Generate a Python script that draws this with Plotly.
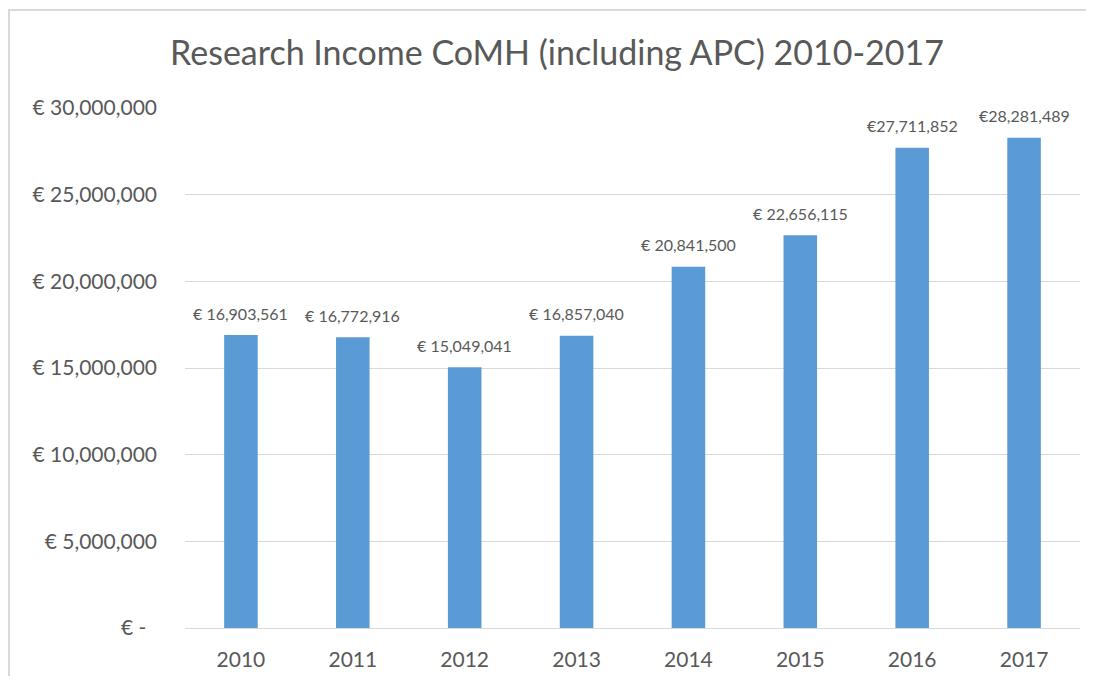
import plotly.graph_objects as go

years = ["2010", "2011", "2012", "2013", "2014", "2015", "2016", "2017"]
income = [16903561, 16772916, 15049041, 16857040, 20841500, 22656115, 27711852, 28281489]
labels = ["€ 16,903,561", "€ 16,772,916", "€ 15,049,041", "€ 16,857,040",
          "€ 20,841,500", "€ 22,656,115", "€27,711,852", "€28,281,489"]
y_ticks = [0, 5000000, 10000000, 15000000, 20000000, 25000000, 30000000]
y_ticktext = ["€ -\u00a0\u00a0" if v == 0 else "€ {:,}".format(v) for v in y_ticks]

FONT = "Lato, 'Open Sans', sans-serif"
GREY = "#595959"

# page body has an 8px margin, so figure coords = screen coords - 8;
# the figure is sized to fit inside the window without scrollbars
L, R, T, B = 177, 1072, 100, 620
W, H = 1078, 668

fig = go.Figure(go.Bar(
    x=years, y=income,
    marker=dict(color="#5B9BD5", line=dict(width=0)),
    width=0.30, cliponaxis=False,
))

annotations = [dict(x=i, y=val, text=lab, xref="x", yref="y", showarrow=False,
                    yanchor="middle", yshift=22,
                    font=dict(size=16, color=GREY, family=FONT))
               for i, (val, lab) in enumerate(zip(income, labels))]

pw, ph = R - L, B - T
fig.update_layout(
    width=W, height=H,
    margin=dict(l=L, r=W - R, t=T, b=H - B, autoexpand=False),
    paper_bgcolor="white", plot_bgcolor="white",
    font=dict(family=FONT, color=GREY),
    title=dict(text="Research Income CoMH (including APC) 2010-2017",
               x=549 / W, xanchor="center", y=1 - 45 / H, yanchor="middle",
               font=dict(size=34, color=GREY, family=FONT)),
    showlegend=False,
    annotations=annotations,
    shapes=[dict(type="rect", xref="paper", yref="paper",
                 x0=(1 - L) / pw, x1=(W + 20 - L) / pw,
                 y0=-(H + 20 - B) / ph, y1=(B - 2) / ph,
                 line=dict(color="#D9D9D9", width=2), fillcolor="rgba(0,0,0,0)",
                 layer="below")],
)
fig.update_xaxes(type="category", range=[-0.5, len(years) - 0.5],
                 showgrid=False, showline=False, ticks="",
                 automargin=False,
                 tickfont=dict(size=21, color=GREY), ticklabelstandoff=17)
fig.update_yaxes(range=[0, 30000000], tickvals=y_ticks, ticktext=y_ticktext,
                 automargin=False,
                 showgrid=True, gridcolor="#D9D9D9", gridwidth=1.3,
                 zeroline=True, zerolinecolor="#D9D9D9", zerolinewidth=1.3,
                 showline=False, ticks="",
                 tickfont=dict(size=21, color=GREY), ticklabelstandoff=27)

fig.write_html("out.html")
